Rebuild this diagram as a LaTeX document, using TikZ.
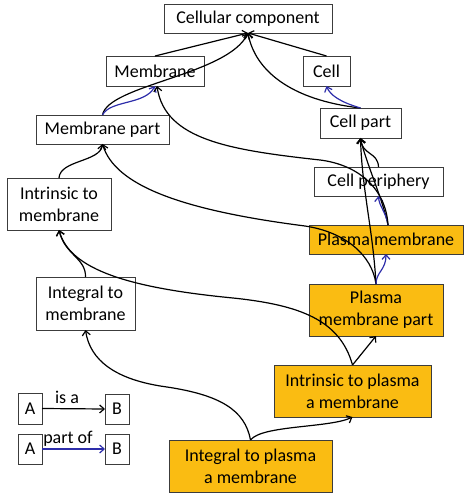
\documentclass[tikz,border=0pt]{standalone}
\usepackage{fontspec}
\setmainfont{Carlito}
\usetikzlibrary{arrows.meta,calc}
\definecolor{goorange}{RGB}{250,188,18}
\definecolor{partblue}{RGB}{45,45,170}
\definecolor{boxline}{RGB}{60,60,60}
\begin{document}
\begin{tikzpicture}[x=1pt,y=-1pt,
  box/.style={draw=boxline, line width=0.9pt, fill=white, inner sep=0pt, outer sep=0pt,
    align=center, font=\fontsize{18}{22}\selectfont},
  gobox/.style={box, fill=goorange},
  lbl/.style={inner sep=0pt, font=\fontsize{18}{22}\selectfont},
  tip/.style={-{Straight Barb[length=4.5pt,width=8pt]}},
  isa/.style={draw=black, line width=1.2pt, tip},
  partof/.style={draw=partblue, line width=1.2pt, tip}]
\useasboundingbox (0,0) rectangle (464,494);

% nodes
\node[box, minimum width=168pt, minimum height=29pt] (cc) at (248,18.5) {Cellular component};
\node[box, minimum width=98pt, minimum height=30pt] (mem) at (155,71) {Membrane};
\node[box, minimum width=47pt, minimum height=30pt] (cell) at (326.5,71) {Cell};
\node[box, minimum width=133pt, minimum height=29pt] (mpart) at (102.5,129.5) {Membrane part};
\node[box, minimum width=81pt, minimum height=30pt] (cpart) at (360.5,123) {Cell part};
\node[box, minimum width=129pt, minimum height=29pt] (cper) at (378.5,181.5) {Cell periphery};
\node[box, minimum width=104pt, minimum height=52pt] (intr) at (59,204) {Intrinsic to\\membrane};
\node[gobox, minimum width=154pt, minimum height=29pt] (pm) at (386,239.5) {Plasma membrane};
\node[box, minimum width=99pt, minimum height=53pt] (integ) at (85.5,303.5) {Integral to\\membrane};
\node[gobox, minimum width=134pt, minimum height=52pt] (pmp) at (376,310) {Plasma\\membrane part};
\node[gobox, minimum width=157pt, minimum height=52pt] (ipm) at (352.5,391) {Intrinsic to plasma\\a membrane};
\node[gobox, minimum width=163pt, minimum height=52pt] (igpm) at (250.5,466) {Integral to plasma\\a membrane};

% legend
\node[box, minimum width=24pt, minimum height=31pt] (la1) at (30,408.5) {A};
\node[box, minimum width=24pt, minimum height=30pt] (lb1) at (117,409) {B};
\node[box, minimum width=24pt, minimum height=30pt] (la2) at (30,449) {A};
\node[box, minimum width=24pt, minimum height=30pt] (lb2) at (117,449) {B};
\node[lbl, anchor=base] (lisa) at (67,403) {is a};
\node[lbl, anchor=base] (lpart) at (68,443) {part of};
\draw[isa] (la1.east) -- (lb1.west);
\draw[partof] (la2.east) -- (lb2.west);

% helper coordinates
\coordinate (pmtop) at ($(pm.north)+(2,0)$);
\coordinate (memin) at ($(mem.south)+(2,0)$);

% connectors
\draw[isa] (mem.north) -- (cc.south);
\draw[isa] (cell.north) -- (cc.south);
\draw[isa] (mpart.north) .. controls (108,85) and (228,75) .. (cc.south);
\draw[partof] (mpart.north) .. controls (110,100) and (145,105) .. (mem.south);
\draw[isa] (cpart.north) .. controls (290,100) and (255,70) .. (cc.south);
\draw[partof] (cpart.north) .. controls (340,102) and (330,95) .. (cell.south);
\draw[isa] (intr.north) .. controls (60,160) and (100,162) .. (mpart.south);
\draw[isa] (cper.north) .. controls (378,152) and (362,155) .. (cpart.south);
\draw[isa] (pmtop) .. controls (383,200) and (365,160) .. (cpart.south);
\draw[partof] (pmtop) .. controls (386,212) and (379,206) .. (cper.south);
\draw[isa] (pmtop) .. controls (386,190) and (360,165) .. (320,160)
  .. controls (230,150) and (165,140) .. (memin);
\draw[isa] (pmp.north) .. controls (372,255) and (345,232) .. (305,226)
  .. controls (180,210) and (115,185) .. (mpart.south);
\draw[isa] (pmp.north) .. controls (373,230) and (362,190) .. (cpart.south);
\draw[partof] (pmp.north) .. controls (376,272) and (386,270) .. (pm.south);
\draw[isa] (integ.north) .. controls (86,258) and (65,255) .. (intr.south);
\draw[isa] (ipm.north) .. controls (340,320) and (300,305) .. (233,298)
  .. controls (130,288) and (70,270) .. (intr.south);
\draw[isa] (ipm.north) -- (pmp.south);
\draw[isa] (igpm.north) .. controls (262,425) and (330,428) .. (ipm.south);
\draw[isa] (igpm.north) .. controls (245,410) and (220,395) .. (167,387)
  .. controls (115,380) and (90,360) .. (integ.south);
\end{tikzpicture}
\end{document}
